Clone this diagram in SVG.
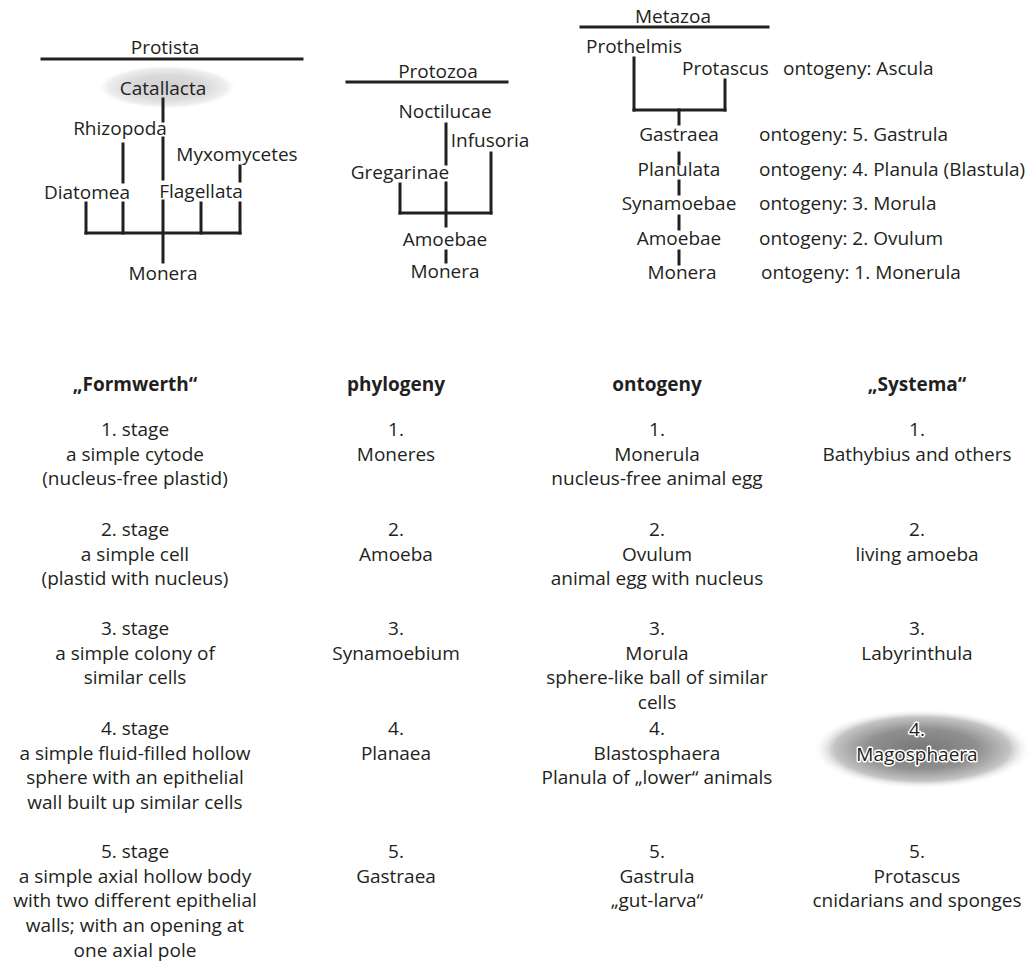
<svg xmlns="http://www.w3.org/2000/svg" width="1036" height="969" viewBox="0 0 1036 969">
<style>
text{font-family:"Open Sans","Noto Sans","Liberation Sans",sans-serif;font-size:19px;fill:#231f20}
.c{text-anchor:middle}
.b{font-weight:bold}
.ln{stroke:#231f20;stroke-width:3;fill:none;stroke-linecap:square}
.halo{stroke:#fff;stroke-width:3;paint-order:stroke;stroke-linejoin:round}
</style>
<defs>
<radialGradient id="gLight" cx="0.5" cy="0.5" r="0.5">
<stop offset="0" stop-color="#cfcfcf"/>
<stop offset="0.55" stop-color="#dadada"/>
<stop offset="0.85" stop-color="#eeeeee"/>
<stop offset="1" stop-color="#fff" stop-opacity="0"/>
</radialGradient>
<radialGradient id="gDark" cx="0.5" cy="0.5" r="0.5">
<stop offset="0" stop-color="#777"/>
<stop offset="0.5" stop-color="#8f8f8f"/>
<stop offset="0.8" stop-color="#c4c4c4"/>
<stop offset="1" stop-color="#fff" stop-opacity="0"/>
</radialGradient>
</defs>
<rect width="1036" height="969" fill="#fff"/>

<g id="highlights">
<ellipse cx="167" cy="87" rx="70" ry="22" fill="url(#gLight)"/>
<ellipse cx="922" cy="749" rx="110" ry="40" fill="url(#gDark)"/>
</g>

<g id="connectors">
<!-- Protista -->
<line class="ln" x1="42" y1="59" x2="302" y2="59"/>
<line class="ln" x1="163" y1="99" x2="163" y2="121"/>
<line class="ln" x1="163" y1="138" x2="163" y2="179"/>
<line class="ln" x1="163" y1="201" x2="163" y2="262"/>
<line class="ln" x1="86" y1="233" x2="240" y2="233"/>
<line class="ln" x1="86" y1="203" x2="86" y2="233"/>
<line class="ln" x1="123" y1="144" x2="123" y2="182"/>
<line class="ln" x1="123" y1="203" x2="123" y2="233"/>
<line class="ln" x1="201" y1="203" x2="201" y2="233"/>
<line class="ln" x1="240" y1="166" x2="240" y2="181"/>
<line class="ln" x1="240" y1="203" x2="240" y2="233"/>
<!-- Protozoa -->
<line class="ln" x1="347" y1="82" x2="507" y2="82"/>
<line class="ln" x1="446" y1="124" x2="446" y2="164"/>
<line class="ln" x1="446" y1="183" x2="446" y2="226"/>
<line class="ln" x1="446" y1="251" x2="446" y2="262"/>
<line class="ln" x1="400" y1="213" x2="491" y2="213"/>
<line class="ln" x1="400" y1="184" x2="400" y2="213"/>
<line class="ln" x1="491" y1="153" x2="491" y2="213"/>
<!-- Metazoa -->
<line class="ln" x1="581" y1="27" x2="768" y2="27"/>
<line class="ln" x1="634" y1="58" x2="634" y2="110"/>
<line class="ln" x1="725" y1="80" x2="725" y2="110"/>
<line class="ln" x1="634" y1="110" x2="725" y2="110"/>
<line class="ln" x1="679" y1="110" x2="679" y2="124"/>
<line class="ln" x1="679" y1="153" x2="679" y2="164"/>
<line class="ln" x1="679" y1="181" x2="679" y2="194"/>
<line class="ln" x1="679" y1="216" x2="679" y2="229"/>
<line class="ln" x1="679" y1="251" x2="679" y2="264"/>
</g>

<g id="protista">
<text class="c" x="165" y="54">Protista</text>
<text class="c" x="163" y="95">Catallacta</text>
<text class="c" x="120" y="135">Rhizopoda</text>
<text class="c" x="237" y="161">Myxomycetes</text>
<text class="c" x="87" y="199">Diatomea</text>
<text class="c" x="201" y="198">Flagellata</text>
<text class="c" x="163" y="280">Monera</text>
</g>

<g id="protozoa">
<text class="c" x="438" y="78">Protozoa</text>
<text class="c" x="445" y="118">Noctilucae</text>
<text class="c" x="490" y="147">Infusoria</text>
<text class="c" x="400" y="179">Gregarinae</text>
<text class="c" x="445" y="246">Amoebae</text>
<text class="c" x="445" y="278">Monera</text>
</g>

<g id="metazoa">
<text class="c" x="673" y="23">Metazoa</text>
<text x="586" y="53">Prothelmis</text>
<text x="682" y="75">Protascus</text>
<text x="783" y="75">ontogeny: Ascula</text>
<text class="c" x="679" y="141">Gastraea</text>
<text class="c" x="679" y="176">Planulata</text>
<text class="c" x="679" y="210">Synamoebae</text>
<text class="c" x="679" y="245">Amoebae</text>
<text class="c" x="682" y="279">Monera</text>
<text x="759" y="141">ontogeny: 5. Gastrula</text>
<text x="759" y="176">ontogeny: 4. Planula (Blastula)</text>
<text x="759" y="210">ontogeny: 3. Morula</text>
<text x="759" y="245">ontogeny: 2. Ovulum</text>
<text x="761" y="279">ontogeny: 1. Monerula</text>
</g>

<g id="col-formwerth">
<text class="c b" x="135" y="391">„Formwerth“</text>
<text class="c" x="135" y="436"><tspan x="135">1. stage</tspan><tspan x="135" dy="24.7">a simple cytode</tspan><tspan x="135" dy="24.7">(nucleus-free plastid)</tspan></text>
<text class="c" x="135" y="536"><tspan x="135">2. stage</tspan><tspan x="135" dy="24.7">a simple cell</tspan><tspan x="135" dy="24.7">(plastid with nucleus)</tspan></text>
<text class="c" x="135" y="635"><tspan x="135">3. stage</tspan><tspan x="135" dy="24.7">a simple colony of</tspan><tspan x="135" dy="24.7">similar cells</tspan></text>
<text class="c" x="135" y="735"><tspan x="135">4. stage</tspan><tspan x="135" dy="24.7">a simple fluid-filled hollow</tspan><tspan x="135" dy="24.7">sphere with an epithelial</tspan><tspan x="135" dy="24.7">wall built up similar cells</tspan></text>
<text class="c" x="135" y="858"><tspan x="135">5. stage</tspan><tspan x="135" dy="24.7">a simple axial hollow body</tspan><tspan x="135" dy="24.7">with two different epithelial</tspan><tspan x="135" dy="24.7">walls; with an opening at</tspan><tspan x="135" dy="24.7">one axial pole</tspan></text>
</g>

<g id="col-phylogeny">
<text class="c b" x="396" y="391">phylogeny</text>
<text class="c" x="396" y="436"><tspan x="396">1.</tspan><tspan x="396" dy="24.7">Moneres</tspan></text>
<text class="c" x="396" y="536"><tspan x="396">2.</tspan><tspan x="396" dy="24.7">Amoeba</tspan></text>
<text class="c" x="396" y="635"><tspan x="396">3.</tspan><tspan x="396" dy="24.7">Synamoebium</tspan></text>
<text class="c" x="396" y="735"><tspan x="396">4.</tspan><tspan x="396" dy="24.7">Planaea</tspan></text>
<text class="c" x="396" y="858"><tspan x="396">5.</tspan><tspan x="396" dy="24.7">Gastraea</tspan></text>
</g>

<g id="col-ontogeny">
<text class="c b" x="657" y="391">ontogeny</text>
<text class="c" x="657" y="436"><tspan x="657">1.</tspan><tspan x="657" dy="24.7">Monerula</tspan><tspan x="657" dy="24.7">nucleus-free animal egg</tspan></text>
<text class="c" x="657" y="536"><tspan x="657">2.</tspan><tspan x="657" dy="24.7">Ovulum</tspan><tspan x="657" dy="24.7">animal egg with nucleus</tspan></text>
<text class="c" x="657" y="635"><tspan x="657">3.</tspan><tspan x="657" dy="24.7">Morula</tspan><tspan x="657" dy="24.7">sphere-like ball of similar</tspan><tspan x="657" dy="24.7">cells</tspan></text>
<text class="c" x="657" y="735"><tspan x="657">4.</tspan><tspan x="657" dy="24.7">Blastosphaera</tspan><tspan x="657" dy="24.7">Planula of „lower“ animals</tspan></text>
<text class="c" x="657" y="858"><tspan x="657">5.</tspan><tspan x="657" dy="24.7">Gastrula</tspan><tspan x="657" dy="24.7">„gut-larva“</tspan></text>
</g>

<g id="col-systema">
<text class="c b" x="917" y="391">„Systema“</text>
<text class="c" x="917" y="436"><tspan x="917">1.</tspan><tspan x="917" dy="24.7">Bathybius and others</tspan></text>
<text class="c" x="917" y="536"><tspan x="917">2.</tspan><tspan x="917" dy="24.7">living amoeba</tspan></text>
<text class="c" x="917" y="635"><tspan x="917">3.</tspan><tspan x="917" dy="24.7">Labyrinthula</tspan></text>
<text class="c halo" x="917" y="736"><tspan x="917">4.</tspan><tspan x="917" dy="24.7">Magosphaera</tspan></text>
<text class="c" x="917" y="858"><tspan x="917">5.</tspan><tspan x="917" dy="24.7">Protascus</tspan><tspan x="917" dy="24.7">cnidarians and sponges</tspan></text>
</g>
</svg>
